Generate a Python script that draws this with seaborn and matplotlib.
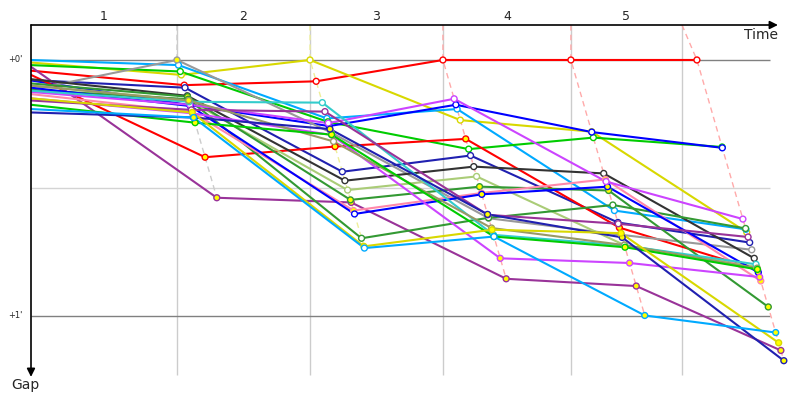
import matplotlib
matplotlib.use('Agg')
import matplotlib.pyplot as plt
import pandas as pd
import seaborn as sns

# lap times of the leader (s) and where the lap grid lines sit
leader_times = [0, 118.4, 226.3, 334.1, 437.9, 540.1]
grid_times = [118.4, 226.3, 334.1, 437.9, 528.0]
lap_labels = ['1', '2', '3', '4', '5']

drivers = ['red_a', 'yellow_a', 'lblue_a', 'green_a', 'blue_a', 'navy_a',
           'red_b', 'purple_a', 'gray', 'dgray', 'lgreen', 'dgreen_a',
           'dgreen_b', 'pink', 'blue_b', 'violet_a', 'violet_b', 'cyan',
           'purple_b', 'olive', 'green_b', 'navy_b', 'yellow_b', 'lblue_b']
colors = ['#ff0000', '#d8d800', '#00aaff', '#00cc00', '#0000ff', '#2020b0',
          '#ff0000', '#993399', '#999999', '#333333', '#aacc77', '#339933',
          '#339933', '#ff88aa', '#0000ff', '#cc44ff', '#cc44ff', '#33cccc',
          '#993399', '#999966', '#00cc00', '#2020b0', '#d8d800', '#00aaff']

# gap to the leader in seconds, start + laps 1..5
gaps = [
    [2.5, 5.9, 5.0, 0.0, 0.0, 0.0],
    [0.6, 3.5, 0.0, 14.1, 16.8, 40.4],
    [0.0, 1.2, 13.7, 11.5, 35.3, 39.7],
    [1.2, 2.7, 14.5, 20.9, 18.2, 20.4],
    [4.8, 10.6, 15.5, 10.5, 16.9, 20.6],
    [4.7, 6.5, 26.2, 22.4, 38.1, 42.8],
    [3.5, 22.8, 20.3, 18.5, 39.3, 49.2],
    [1.6, 32.3, 33.4, 51.3, 53.0, 68.1],
    [7.0, 0.0, 17.0, 37.1, 41.0, 44.5],
    [4.5, 8.4, 28.3, 25.0, 26.6, 46.5],
    [6.0, 9.4, 30.5, 27.3, 43.4, 48.5],
    [5.5, 8.6, 32.8, 29.7, 30.6, 57.9],
    [7.0, 9.2, 41.8, 37.0, 34.0, 39.5],
    [8.0, 12.2, 35.3, 31.2, 28.0, 51.8],
    [6.5, 10.8, 36.1, 31.5, 29.7, 49.8],
    [7.5, 10.5, 14.8, 9.1, 28.5, 37.3],
    [9.0, 12.5, 17.6, 46.5, 47.6, 50.9],
    [7.2, 9.8, 10.0, 41.0, 43.5, 47.9],
    [9.5, 11.7, 12.1, 36.3, 38.4, 41.5],
    [6.0, 9.5, 19.1, 39.4, 43.4, 48.8],
    [10.5, 14.7, 17.5, 41.4, 43.9, 49.1],
    [12.3, 13.5, 16.2, 36.2, 41.6, 70.5],
    [9.0, 12.3, 43.7, 39.8, 40.6, 66.3],
    [11.5, 13.5, 44.1, 41.4, 59.9, 63.9],
]
# marker fill per lap 1..5: w = white, y = yellow
fills = ['wwwww', 'wwwww', 'wwwww', 'wwwww', 'ywwww', 'wwwww',
         'yyyyy', 'yyyyy', 'ywwww', 'wwwww', 'wwwww', 'yyyyy',
         'ywwww', 'yyyyy', 'ywyyy', 'wwwww', 'yyyyy', 'wwwww',
         'wwwww', 'ywwww', 'yyyyy', 'yyyyy', 'yyyyy', 'ywwyy']
lap_line_colors = ['#cccccc', '#eeee99', '#ffaaaa', '#ffaaaa', '#ffaaaa']

rows = []
for d, c, g, f in zip(drivers, colors, gaps, fills):
    for lap, gap in enumerate(g):
        t = 0 if lap == 0 else leader_times[lap] + gap
        fc = None if lap == 0 else ('white' if f[lap - 1] == 'w' else '#ffff00')
        rows.append(dict(driver=d, lap=lap, gap=gap, time=t, edge=c, face=fc))
df = pd.DataFrame(rows)

sns.set_theme(style='white')
plt.rcParams['font.family'] = ['DejaVu Sans']

fig = plt.figure(figsize=(8, 4), dpi=100)
ax = fig.add_axes([31 / 800, 15 / 400, 759 / 800, 360 / 400])
x_max = 615.6
y_top, y_bot = -8.2, 76.2
ax.set_xlim(0, x_max)
ax.set_ylim(y_bot, y_top)
ax.axis('off')

# grid
ax.vlines(grid_times, y_top, 73.8, color='#cccccc', lw=1, zorder=0)
ax.hlines([30], 0, 599.4, color='#d4d4d4', lw=1, zorder=0)
ax.hlines([0, 60], 0, 599.4, color='#808080', lw=1, zorder=0)

# dashed lines joining each lap's points
for k in range(1, 6):
    lap_df = df[df.lap == k].sort_values('gap')
    xs = [grid_times[k - 1]] + list(lap_df.time)
    ys = [y_top] + list(lap_df.gap)
    ax.plot(xs, ys, color=lap_line_colors[k - 1], lw=1, ls=(0, (4, 3)), zorder=1)

sns.lineplot(data=df, x='time', y='gap', hue='driver', palette=dict(zip(drivers, colors)),
             sort=False, estimator=None, legend=False, linewidth=1.5, ax=ax, zorder=2)

pts = df[df.lap > 0]
ax.scatter(pts.time, pts.gap, s=18, c=list(pts.face), edgecolors=list(pts.edge),
           linewidths=1, zorder=3, clip_on=False)

# axes arrows
arrow = dict(arrowstyle='-|>', color='black', lw=1.2, mutation_scale=12, shrinkA=0, shrinkB=0)
ax.annotate('', xy=(605.8, y_top), xytext=(0, y_top), arrowprops=arrow, annotation_clip=False)
ax.annotate('', xy=(0, 74.3), xytext=(0, y_top), arrowprops=arrow, annotation_clip=False)
ax.text(605.8, -7.5, 'Time', ha='right', va='top', fontsize=10)
ax.text(-4.9, 76.2, 'Gap', ha='center', va='center', fontsize=10, clip_on=False)

# lap numbers
bounds = [0] + grid_times
for i, lab in enumerate(lap_labels):
    ax.text((bounds[i] + bounds[i + 1]) / 2, -10.1, lab, ha='center', va='center', fontsize=9)

for v, lab in [(0, "+0'"), (60, "+1'")]:
    ax.text(-13, v, lab, ha='center', va='center', fontsize=6)

fig.savefig('out.png', dpi=100)
